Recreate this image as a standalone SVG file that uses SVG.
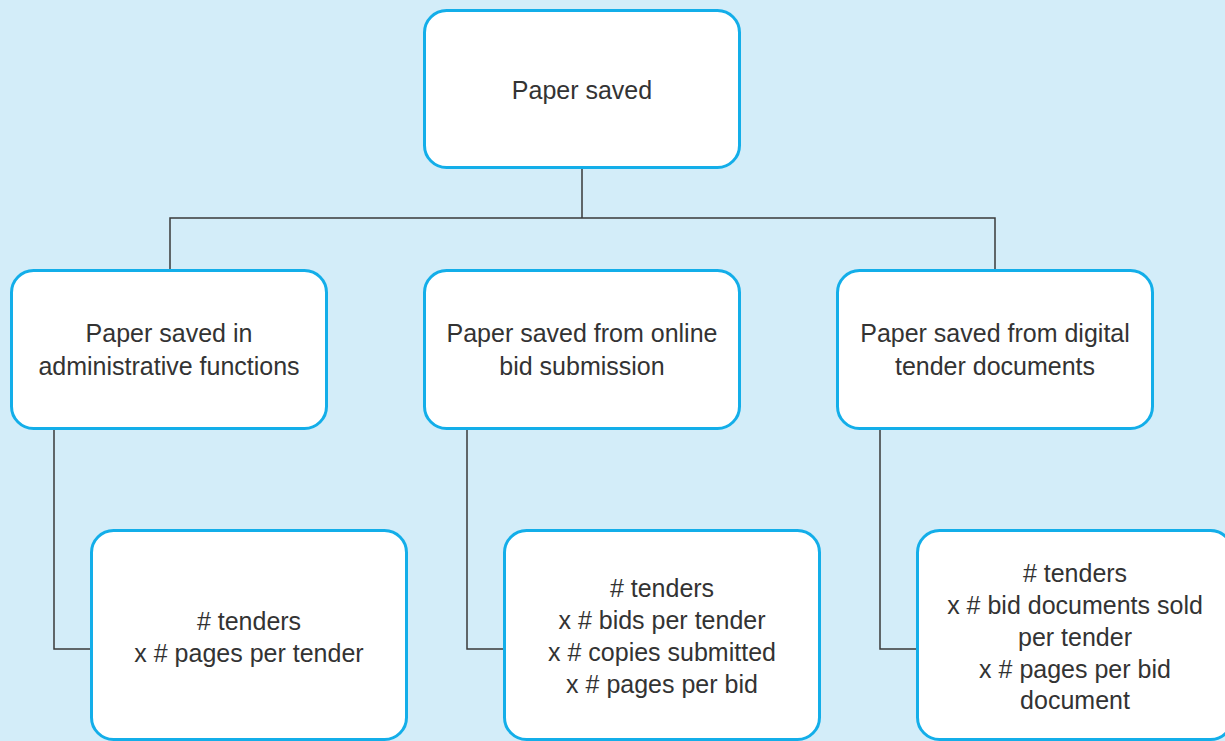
<svg xmlns="http://www.w3.org/2000/svg" width="1225" height="741" viewBox="0 0 1225 741">
  <style>
    .box { fill: #ffffff; stroke: #13aee9; stroke-width: 3; }
    .lbl { font-family: "Liberation Sans", Arial, sans-serif; font-size: 25px; fill: #333333; text-anchor: middle; }
    .wire { fill: none; stroke: #3a3a3a; stroke-width: 1.5; }
  </style>
  <rect x="0" y="0" width="1225" height="741" fill="#d3edf9"/>

  <g id="connectors">
    <path class="wire" d="M582 168 V218 M170 270 V218 H995 V270"/>
    <path class="wire" d="M54 429 V649 H91"/>
    <path class="wire" d="M467 429 V649 H504"/>
    <path class="wire" d="M880 429 V649 H917"/>
  </g>

  <g id="paper-saved">
    <rect class="box" x="424.5" y="10.5" width="315" height="157" rx="22"/>
    <text class="lbl" x="582" y="99">Paper saved</text>
  </g>

  <g id="admin">
    <rect class="box" x="11.5" y="270.5" width="315" height="158" rx="22"/>
    <text class="lbl" x="169" y="342">Paper saved in</text>
    <text class="lbl" x="169" y="375">administrative functions</text>
  </g>

  <g id="online-bid">
    <rect class="box" x="424.5" y="270.5" width="315" height="158" rx="22"/>
    <text class="lbl" x="582" y="342">Paper saved from online</text>
    <text class="lbl" x="582" y="375">bid submission</text>
  </g>

  <g id="digital-docs">
    <rect class="box" x="837.5" y="270.5" width="315" height="158" rx="22"/>
    <text class="lbl" x="995" y="342">Paper saved from digital</text>
    <text class="lbl" x="995" y="375">tender documents</text>
  </g>

  <g id="admin-formula">
    <rect class="box" x="91.5" y="530.5" width="315" height="209" rx="22"/>
    <text class="lbl" x="249" y="630"># tenders</text>
    <text class="lbl" x="249" y="662">x # pages per tender</text>
  </g>

  <g id="online-formula">
    <rect class="box" x="504.5" y="530.5" width="315" height="209" rx="22"/>
    <text class="lbl" x="662" y="597"># tenders</text>
    <text class="lbl" x="662" y="629">x # bids per tender</text>
    <text class="lbl" x="662" y="661">x # copies submitted</text>
    <text class="lbl" x="662" y="693">x # pages per bid</text>
  </g>

  <g id="digital-formula">
    <rect class="box" x="917.5" y="530.5" width="315" height="209" rx="22"/>
    <text class="lbl" x="1075" y="582"># tenders</text>
    <text class="lbl" x="1075" y="614">x # bid documents sold</text>
    <text class="lbl" x="1075" y="646">per tender</text>
    <text class="lbl" x="1075" y="678">x # pages per bid</text>
    <text class="lbl" x="1075" y="709">document</text>
  </g>
</svg>
